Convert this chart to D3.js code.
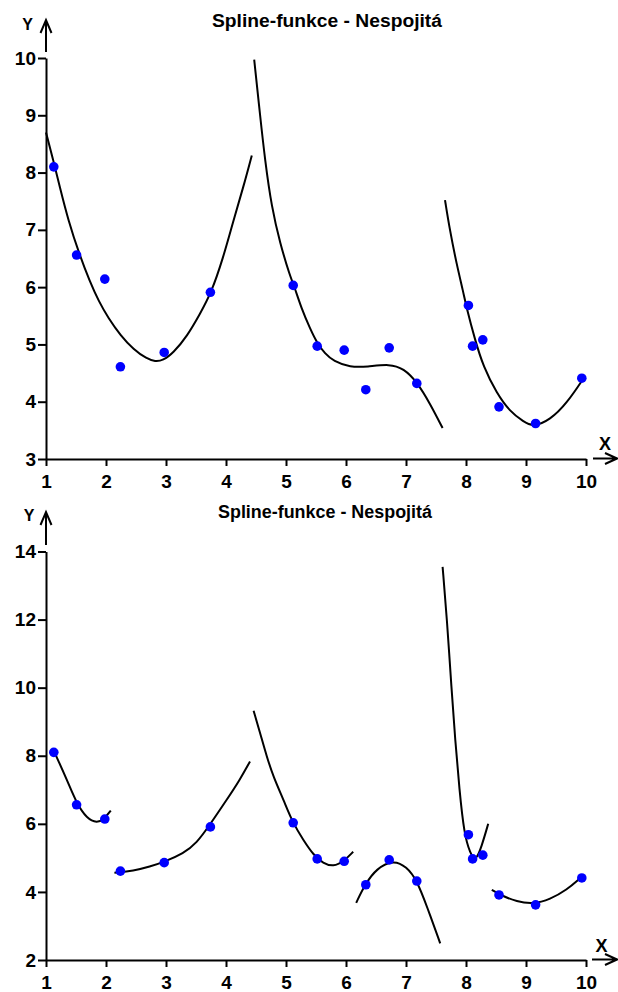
<!DOCTYPE html>
<html><head><meta charset="utf-8">
<script src="https://cdn.jsdelivr.net/npm/d3@7"></script>
<style>
html,body{margin:0;padding:0;background:#fff;}
svg{display:block;}
text{font-family:"Liberation Sans",Arial,sans-serif;font-weight:bold;fill:#000;}
</style></head>
<body>
<svg id="c" width="618" height="992"></svg>
<script>
// ---------- data ----------
const titleText = "Spline-funkce - Nespojitá";
const xTicks = [1,2,3,4,5,6,7,8,9,10];
const yTicksTop = [3,4,5,6,7,8,9,10];
const yTicksBottom = [2,4,6,8,10,12,14];
const pointX = [1.13,1.51,1.98,2.24,2.97,3.74,5.12,5.52,5.97,6.33,6.72,7.18,8.04,8.11,8.28,8.55,9.16,9.93];
const pointY = [8.10,6.56,6.14,4.61,4.86,5.91,6.03,4.97,4.90,4.21,4.94,4.32,5.68,4.97,5.08,3.91,3.62,4.41];

// top chart: 3 spline pieces
const topSeg1 = [[1.00,8.70],[1.12,8.22],[1.23,7.75],[1.37,7.17],[1.56,6.56],[1.73,6.10],[1.88,5.75],[2.04,5.46],[2.24,5.16],[2.46,4.91],[2.68,4.75],[2.82,4.70],[2.95,4.72],[3.12,4.85],[3.35,5.14],[3.57,5.54],[3.75,5.89],[3.95,6.50],[4.12,7.15],[4.29,7.75],[4.43,8.30]];
const topSeg2 = [[4.47,9.97],[4.57,8.98],[4.65,8.22],[4.76,7.40],[4.90,6.77],[5.07,6.18],[5.13,6.04],[5.26,5.62],[5.40,5.28],[5.52,5.02],[5.65,4.84],[5.79,4.71],[6.07,4.60],[6.35,4.61],[6.73,4.66],[6.96,4.58],[7.18,4.35],[7.40,3.97],[7.61,3.54]];
const topSeg3 = [[7.65,7.52],[7.73,7.00],[7.84,6.42],[7.96,5.89],[8.00,5.68],[8.15,5.08],[8.29,4.61],[8.51,4.15],[8.73,3.83],[8.96,3.65],[9.12,3.56],[9.40,3.68],[9.68,3.97],[9.98,4.44]];

// bottom chart: 6 spline pieces
const botSeg1 = [[1.15,8.07],[1.35,7.29],[1.51,6.60],[1.68,6.16],[1.85,6.02],[1.97,6.14],[2.08,6.39]];
const botSeg2 = [[2.14,4.56],[2.46,4.62],[2.73,4.74],[2.98,4.89],[3.29,5.13],[3.51,5.43],[3.73,5.97],[4.01,6.70],[4.23,7.29],[4.40,7.83]];
const botSeg3 = [[4.46,9.32],[4.57,8.66],[4.68,7.97],[4.79,7.38],[4.96,6.70],[5.11,6.04],[5.29,5.52],[5.46,5.08],[5.62,4.84],[5.79,4.74],[5.96,4.89],[6.12,5.18]];
const botSeg4 = [[6.17,3.68],[6.32,4.23],[6.51,4.69],[6.79,4.94],[7.01,4.74],[7.18,4.35],[7.35,3.57],[7.57,2.49]];
const botSeg5 = [[7.61,13.55],[7.68,12.08],[7.76,9.93],[7.82,8.46],[7.89,7.00],[7.97,5.69],[8.07,5.13],[8.16,4.89],[8.26,5.33],[8.37,6.00]];
const botSeg6 = [[8.43,4.06],[8.57,3.91],[8.85,3.71],[9.12,3.64],[9.40,3.78],[9.68,4.06],[9.90,4.40]];

// ---------- drawing ----------
const svg = d3.select("#c");
const points = pointX.map((x,i)=>({x, y: pointY[i]}));

function drawChart(cfg){
  const g = svg.append("g");
  const x = d3.scaleLinear().domain([1,10]).range([46,586]);
  const y = d3.scaleLinear().domain(cfg.yDomain).range(cfg.yRange);
  const y0 = cfg.yRange[0];

  g.append("text").attr("x",cfg.titleX).attr("y",cfg.titleY)
    .attr("text-anchor","middle").style("font-size","18px")
    .attr("textLength",cfg.titleLen).attr("lengthAdjust","spacingAndGlyphs")
    .text(titleText);

  const ya = g.append("g").attr("transform","translate(46,0)")
    .call(d3.axisLeft(y).tickValues(cfg.yTicks).tickSize(8).tickSizeOuter(0).tickPadding(2).tickFormat(d3.format("d")));
  ya.selectAll("path,line").attr("stroke","#000").attr("stroke-width",2);
  ya.selectAll("text").style("font-size","19px").style("font-family","Liberation Sans, Arial, sans-serif").style("font-weight","bold").attr("fill","#000");

  const xa = g.append("g").attr("transform",`translate(0,${y0})`)
    .call(d3.axisBottom(x).tickValues(xTicks).tickSize(7).tickSizeOuter(0).tickPadding(9).tickFormat(d3.format("d")));
  xa.selectAll("path,line").attr("stroke","#000").attr("stroke-width",2);
  xa.selectAll("text").style("font-size","19px").style("font-family","Liberation Sans, Arial, sans-serif").style("font-weight","bold").attr("fill","#000");

  const ax = cfg.yArrow;
  g.append("path").attr("d",`M46,${ax.bottom}L46,${ax.top}M40.5,${ax.top+13}L46,${ax.top}L51.5,${ax.top+13}`)
    .attr("fill","none").attr("stroke","#000").attr("stroke-width",2);
  const xr = cfg.xArrow;
  g.append("path").attr("d",`M${xr.left},${xr.y}L617,${xr.y}M605,${xr.y-5.5}L617,${xr.y}L605,${xr.y+5.5}`)
    .attr("fill","none").attr("stroke","#000").attr("stroke-width",2);
  g.append("text").attr("x",cfg.yLabel[0]).attr("y",cfg.yLabel[1]).attr("text-anchor","middle").style("font-size","16px").text("Y");
  g.append("text").attr("x",cfg.xLabel[0]).attr("y",cfg.xLabel[1]).attr("text-anchor","middle").style("font-size","18px").text("X");

  const line = d3.line().x(d=>x(d[0])).y(d=>y(d[1])).curve(d3.curveBasis);
  g.selectAll("path.seg").data(cfg.segs).enter().append("path").attr("class","seg")
    .attr("d",line).attr("fill","none").attr("stroke","#000").attr("stroke-width",2);

  g.selectAll("circle").data(points).enter().append("circle")
    .attr("cx",d=>x(d.x)).attr("cy",d=>y(d.y)).attr("r",4.8).attr("fill","#0000ff");
}

drawChart({
  yDomain:[3,10], yRange:[459,58], yTicks:yTicksTop,
  titleX:327, titleY:27, titleLen:230,
  yArrow:{top:20, bottom:52}, xArrow:{left:593, y:458.5},
  yLabel:[27.5,30], xLabel:[605,450],
  segs:[topSeg1, topSeg2, topSeg3]
});
drawChart({
  yDomain:[2,14], yRange:[960,551.5], yTicks:yTicksBottom,
  titleX:325, titleY:518, titleLen:214,
  yArrow:{top:512, bottom:545}, xArrow:{left:592, y:959.5},
  yLabel:[29,521], xLabel:[601.5,952],
  segs:[botSeg1, botSeg2, botSeg3, botSeg4, botSeg5, botSeg6]
});
</script>
</body></html>
